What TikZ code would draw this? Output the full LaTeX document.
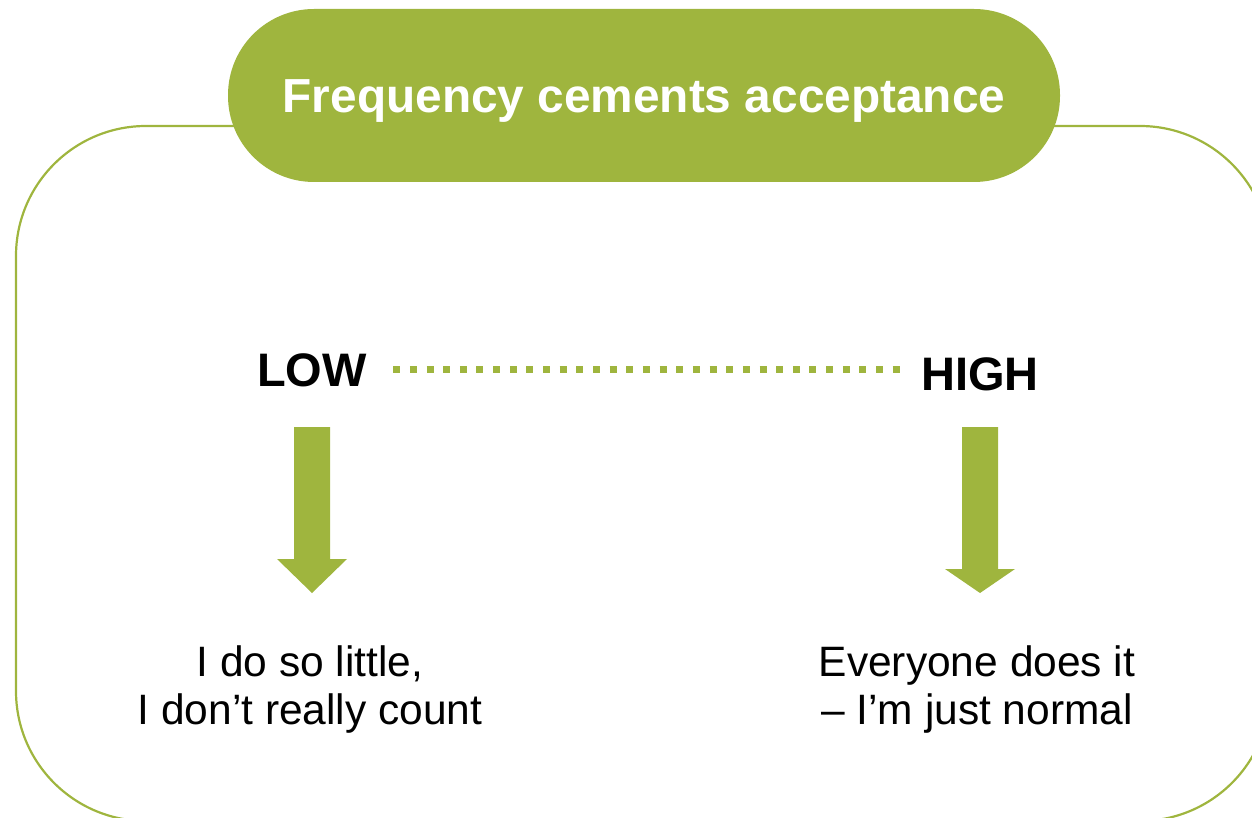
\documentclass[tikz,border=0pt]{standalone}
\usepackage{fontspec}
\setmainfont{Liberation Sans}
\definecolor{leaf}{RGB}{159,181,62}

\begin{document}
\begin{tikzpicture}[x=0.5pt,y=-0.5pt,
  frame/.style={draw=leaf,line width=1.1pt,rounded corners=65pt},
  pill/.style={fill=leaf,text=white,rounded corners=43pt,minimum width=416pt,
    minimum height=86.5pt,text height=17.2pt,text depth=0pt,
    font=\bfseries\fontsize{23.9}{28}\selectfont},
  level/.style={inner sep=0pt,anchor=base,font=\bfseries\fontsize{23.5}{28}\selectfont},
  saying/.style={inner sep=0pt,align=center,font=\fontsize{21.25}{24}\selectfont},
  dotline/.style={draw=leaf,line width=3.5pt,dash pattern=on 3.5pt off 4.825pt},
  blockarrow/.style={fill=leaf}]

\useasboundingbox (0,0) rectangle (1252,818);
\clip (0,0) rectangle (1252,818);

% frame and title
\draw[frame] (16,126) rectangle (1270,821);
\node (title) [pill] at (644,95.5) {Frequency cements acceptance};

% nodes
\node (low) [level] at (312,386) {LOW};
\node (high) [level] at (980,390) {HIGH};
\node (little) [saying] at (310,690) {I do so little,\\I don’t really count};
\node (normal) [saying] at (977,690) {Everyone does it\\– I’m just normal};

% dotted scale
\draw[dotline,shorten <=13pt,shorten >=10.5pt] (low.east) -- (low.east -| high.west);

% arrows
\fill[blockarrow] (294,427) -- ++(36,0) -- ++(0,132) -- ++(17,0) -- ++(-35,34)
  -- ++(-35,-34) -- ++(17,0) -- cycle;
\fill[blockarrow] (962,427) -- ++(36,0) -- ++(0,142) -- ++(17,0) -- ++(-35,24)
  -- ++(-35,-24) -- ++(17,0) -- cycle;
\end{tikzpicture}
\end{document}
